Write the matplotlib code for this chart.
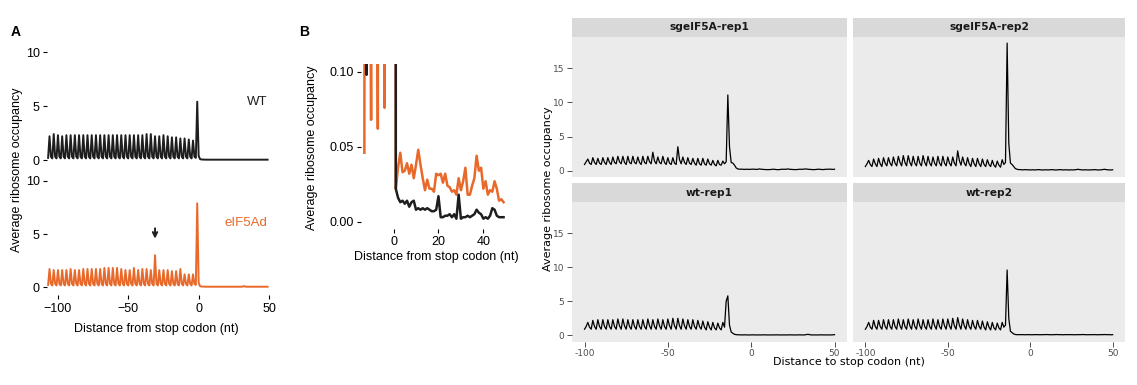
import numpy as np
import matplotlib
matplotlib.use("Agg")
import matplotlib.pyplot as plt

W, H = 1137, 385
ORANGE = "#E8692A"
DARK = "#1E1E1E"
SANS = ["Liberation Sans", "DejaVu Sans"]

# ---------------- panel A: one value per nt, -107 .. 49 ----------------
# head (-107), then codons (peak, low, low) from -106 to -2, then tail -1 .. 49
wt_head = [0.2]
wt_peak = [2.2, 2.4, 2.3, 2.2, 2.3, 2.3, 2.3, 2.3, 2.3, 2.3, 2.3, 2.3,
           2.3, 2.3, 2.3, 2.3, 2.3, 2.3, 2.3, 2.3, 2.3, 2.3, 2.3, 2.4,
           2.4, 2.2, 2.2, 2.3, 2.2, 2.1, 2.1, 2.0, 2.0, 1.9, 1.8]
wt_low1 = [0.3, 0.3, 0.3, 0.3, 0.3, 0.3, 0.3, 0.3, 0.3, 0.3, 0.3, 0.3,
           0.3, 0.3, 0.3, 0.3, 0.3, 0.3, 0.3, 0.3, 0.3, 0.3, 0.3, 0.3,
           0.3, 0.3, 0.3, 0.3, 0.3, 0.3, 0.3, 0.3, 0.3, 0.3, 0.3]
wt_low2 = [0.15, 0.15, 0.15, 0.15, 0.15, 0.15, 0.15, 0.15, 0.15, 0.15, 0.15, 0.15,
           0.15, 0.15, 0.15, 0.15, 0.15, 0.15, 0.15, 0.15, 0.15, 0.15, 0.15, 0.15,
           0.15, 0.15, 0.15, 0.15, 0.15, 0.15, 0.15, 0.15, 0.15, 0.15, 0.2]
wt_tail = [5.4, 0.4, 0.08, 0.05, 0.04, 0.03, 0.03, 0.03, 0.03, 0.03, 0.03,
           0.03, 0.03, 0.03, 0.03, 0.03, 0.03, 0.03, 0.03, 0.03, 0.03,
           0.03, 0.03, 0.03, 0.03, 0.03, 0.03, 0.03, 0.03, 0.03, 0.03,
           0.03, 0.03, 0.03, 0.03, 0.03, 0.03, 0.03, 0.03, 0.03, 0.03,
           0.03, 0.03, 0.03, 0.03, 0.03, 0.03, 0.03, 0.03, 0.03, 0.03]

ei_head = [0.2]
ei_peak = [1.7, 1.6, 1.6, 1.6, 1.6, 1.7, 1.6, 1.6, 1.7, 1.7, 1.7, 1.7,
           1.7, 1.8, 1.8, 1.8, 1.8, 1.7, 1.6, 1.6, 1.8, 1.6, 1.7, 1.7,
           1.6, 3.0, 1.6, 1.6, 1.6, 1.5, 1.5, 1.7, 1.2, 1.2, 1.2]
ei_low1 = [0.3, 0.3, 0.3, 0.3, 0.3, 0.3, 0.3, 0.3, 0.3, 0.3, 0.3, 0.3,
           0.3, 0.3, 0.3, 0.3, 0.3, 0.3, 0.3, 0.3, 0.3, 0.3, 0.3, 0.3,
           0.3, 0.3, 0.3, 0.3, 0.3, 0.3, 0.3, 0.3, 0.3, 0.3, 0.3]
ei_low2 = [0.15, 0.15, 0.15, 0.15, 0.15, 0.15, 0.15, 0.15, 0.15, 0.15, 0.15, 0.15,
           0.15, 0.15, 0.15, 0.15, 0.15, 0.15, 0.15, 0.15, 0.15, 0.15, 0.15, 0.15,
           0.15, 0.15, 0.15, 0.15, 0.15, 0.15, 0.15, 0.15, 0.15, 0.15, 0.2]
ei_tail = [7.9, 0.4, 0.08, 0.05, 0.04, 0.03, 0.03, 0.03, 0.03, 0.03, 0.03,
           0.03, 0.03, 0.03, 0.03, 0.03, 0.03, 0.03, 0.03, 0.03, 0.03,
           0.03, 0.03, 0.03, 0.03, 0.03, 0.03, 0.03, 0.03, 0.03, 0.03,
           0.03, 0.03, 0.08, 0.05, 0.03, 0.03, 0.03, 0.03, 0.03, 0.03,
           0.03, 0.03, 0.03, 0.03, 0.03, 0.03, 0.03, 0.03, 0.03, 0.03]

# ---------------- panel B: one value per nt, -13 .. 49 ----------------
b_orange = [0.046, 1.6, 0.5, 0.068, 1.6, 0.5, 0.062, 1.6, 0.5, 0.076, 1.2, 0.5, 0.4, 7.9,
            0.022, 0.036, 0.046, 0.033, 0.034, 0.039, 0.032, 0.038, 0.029, 0.038,
            0.048, 0.038, 0.029, 0.021, 0.028, 0.022, 0.022, 0.020, 0.032, 0.031,
            0.032, 0.026, 0.032, 0.024, 0.023, 0.020, 0.021, 0.018, 0.029, 0.021,
            0.027, 0.036, 0.018, 0.018, 0.024, 0.029, 0.044, 0.034, 0.036, 0.022,
            0.027, 0.018, 0.021, 0.020, 0.027, 0.022, 0.014, 0.015, 0.013]
b_black = [0.3, 0.098, 2.0, 0.3, 0.3, 2.2, 0.3, 0.3, 2.2, 0.3, 0.3, 2.0, 0.3, 5.4,
           0.022, 0.016, 0.013, 0.014, 0.012, 0.014, 0.010, 0.013, 0.014, 0.008,
           0.009, 0.008, 0.009, 0.008, 0.009, 0.008, 0.007, 0.007, 0.008, 0.017,
           0.003, 0.003, 0.004, 0.004, 0.005, 0.003, 0.005, 0.002, 0.018, 0.002,
           0.003, 0.003, 0.004, 0.003, 0.004, 0.005, 0.008, 0.006, 0.005, 0.002,
           0.003, 0.002, 0.004, 0.009, 0.008, 0.004, 0.003, 0.003, 0.003]

# ---------------- facets: one value per nt, -100 .. 50 ----------------
# head (-100, -99), codons (peak, low, low) -98 .. -15, tail -14 .. 50
facet_names = ["sgeIF5A-rep1", "sgeIF5A-rep2", "wt-rep1", "wt-rep2"]

rep1_head = [0.9, 1.3]
rep1_peak = [1.7, 1.9, 1.8, 1.9, 1.9, 2.0, 2.1, 2.1, 2.1, 2.1, 2.0, 2.1, 2.1, 2.7,
             2.0, 2.1, 1.9, 1.9, 3.5, 2.0, 1.9, 1.8, 1.8, 1.8, 1.7, 1.5, 1.5, 1.4]
rep1_low1 = [1.1, 1.2, 1.1, 1.2, 1.2, 1.2, 1.3, 1.2, 1.2, 1.2, 1.2, 1.2, 1.3, 1.4,
             1.2, 1.2, 1.1, 1.1, 1.6, 1.2, 1.1, 1.1, 1.0, 1.0, 1.0, 0.9, 0.9, 1.0]
rep1_low2 = [0.9, 0.9, 0.9, 0.9, 0.9, 1.0, 1.0, 0.9, 1.0, 1.0, 0.9, 1.0, 1.0, 1.0,
             1.0, 0.9, 0.9, 0.9, 1.0, 0.9, 0.9, 0.8, 0.8, 0.8, 0.8, 0.7, 0.8, 1.3]
rep1_tail = [11.1, 3.5, 1.2, 1.1, 0.8, 0.4, 0.25, 0.2, 0.22, 0.2, 0.18, 0.2, 0.2,
             0.18, 0.2, 0.22, 0.2, 0.18, 0.2, 0.25, 0.2, 0.18, 0.15, 0.15, 0.15, 0.15,
             0.18, 0.2, 0.2, 0.15, 0.15, 0.15, 0.2, 0.2, 0.2, 0.2, 0.25, 0.2, 0.18,
             0.15, 0.15, 0.15, 0.18, 0.2, 0.2, 0.2, 0.22, 0.25, 0.2, 0.18, 0.15, 0.15,
             0.15, 0.18, 0.2, 0.2, 0.18, 0.15, 0.18, 0.2, 0.2, 0.22, 0.2, 0.18, 0.2]

rep2_head = [0.6, 1.0]
rep2_peak = [1.5, 1.7, 1.8, 1.9, 1.9, 2.0, 2.1, 2.2, 2.2, 2.1, 2.1, 2.2, 2.1, 2.0,
             2.1, 2.1, 2.0, 2.0, 2.9, 2.0, 1.9, 1.8, 1.8, 1.7, 1.6, 1.5, 1.4, 1.6]
rep2_low1 = [0.9, 1.0, 1.0, 1.1, 1.1, 1.1, 1.2, 1.2, 1.2, 1.1, 1.1, 1.2, 1.1, 1.1,
             1.1, 1.1, 1.1, 1.1, 1.5, 1.1, 1.0, 1.0, 1.0, 0.9, 0.9, 0.8, 0.8, 0.9]
rep2_low2 = [0.6, 0.6, 0.6, 0.7, 0.7, 0.7, 0.7, 0.7, 0.7, 0.7, 0.7, 0.7, 0.7, 0.7,
             0.7, 0.7, 0.7, 0.7, 0.8, 0.7, 0.6, 0.6, 0.6, 0.6, 0.6, 0.5, 0.5, 1.2]
rep2_tail = [18.7, 4.0, 1.1, 0.9, 0.6, 0.3, 0.2, 0.15, 0.15, 0.12, 0.12, 0.15, 0.12,
             0.12, 0.1, 0.12, 0.12, 0.1, 0.12, 0.15, 0.12, 0.1, 0.1, 0.12, 0.12, 0.1,
             0.12, 0.15, 0.12, 0.1, 0.1, 0.12, 0.15, 0.12, 0.1, 0.12, 0.12, 0.1, 0.1,
             0.12, 0.1, 0.12, 0.15, 0.2, 0.15, 0.12, 0.1, 0.12, 0.12, 0.1, 0.1, 0.12,
             0.12, 0.15, 0.12, 0.1, 0.1, 0.12, 0.15, 0.2, 0.15, 0.12, 0.1, 0.1, 0.12]

wt1_head = [0.9, 1.3]
wt1_peak = [1.9, 2.2, 2.3, 2.3, 2.3, 2.3, 2.4, 2.4, 2.3, 2.3, 2.3, 2.3, 2.4, 2.3,
            2.4, 2.3, 2.4, 2.5, 2.5, 2.4, 2.3, 2.3, 2.2, 2.1, 2.0, 1.9, 1.8, 1.9]
wt1_low1 = [1.2, 1.3, 1.3, 1.3, 1.3, 1.3, 1.4, 1.4, 1.3, 1.3, 1.3, 1.3, 1.4, 1.3,
            1.4, 1.3, 1.4, 1.4, 1.4, 1.4, 1.3, 1.3, 1.3, 1.2, 1.2, 1.1, 1.1, 1.2]
wt1_low2 = [0.9, 0.9, 0.9, 0.9, 0.9, 0.9, 0.9, 0.9, 0.9, 0.9, 0.9, 0.9, 0.9, 0.9,
            0.9, 0.9, 0.9, 0.9, 0.9, 0.9, 0.9, 0.9, 0.9, 0.8, 0.8, 0.8, 0.8, 5.0]
wt1_tail = [5.8, 1.5, 0.5, 0.3, 0.15, 0.1, 0.08, 0.08, 0.06, 0.06, 0.08, 0.06, 0.06,
            0.06, 0.06, 0.08, 0.06, 0.06, 0.06, 0.05, 0.06, 0.06, 0.08, 0.06, 0.06, 0.06,
            0.05, 0.06, 0.06, 0.08, 0.06, 0.06, 0.06, 0.05, 0.06, 0.06, 0.06, 0.08, 0.06,
            0.06, 0.06, 0.05, 0.06, 0.08, 0.06, 0.06, 0.06, 0.1, 0.15, 0.1, 0.06, 0.06,
            0.06, 0.05, 0.06, 0.06, 0.08, 0.06, 0.06, 0.06, 0.05, 0.06, 0.06, 0.08, 0.1]

wt2_head = [0.9, 1.3]
wt2_peak = [1.9, 2.2, 2.2, 2.3, 2.3, 2.3, 2.4, 2.3, 2.4, 2.3, 2.4, 2.3, 2.3, 2.4,
            2.3, 2.4, 2.4, 2.5, 2.6, 2.4, 2.3, 2.2, 2.2, 2.1, 2.0, 1.9, 1.8, 1.9]
wt2_low1 = [1.2, 1.3, 1.3, 1.3, 1.3, 1.3, 1.4, 1.3, 1.4, 1.3, 1.4, 1.3, 1.3, 1.4,
            1.3, 1.4, 1.4, 1.4, 1.5, 1.4, 1.3, 1.3, 1.3, 1.2, 1.2, 1.1, 1.1, 1.2]
wt2_low2 = [0.9, 0.9, 0.9, 0.9, 0.9, 0.9, 0.9, 0.9, 0.9, 0.9, 0.9, 0.9, 0.9, 0.9,
            0.9, 0.9, 0.9, 0.9, 0.9, 0.9, 0.9, 0.9, 0.9, 0.8, 0.8, 0.8, 0.8, 1.5]
wt2_tail = [9.6, 2.5, 0.6, 0.4, 0.2, 0.12, 0.1, 0.1, 0.1, 0.1, 0.1, 0.08, 0.1,
            0.1, 0.1, 0.08, 0.1, 0.1, 0.1, 0.1, 0.08, 0.1, 0.1, 0.1, 0.12, 0.1,
            0.1, 0.08, 0.1, 0.1, 0.12, 0.1, 0.1, 0.1, 0.08, 0.1, 0.1, 0.1, 0.1,
            0.1, 0.1, 0.08, 0.1, 0.1, 0.1, 0.1, 0.12, 0.1, 0.1, 0.08, 0.1, 0.1,
            0.1, 0.1, 0.1, 0.08, 0.1, 0.1, 0.1, 0.12, 0.1, 0.1, 0.1, 0.08, 0.1]


def codons(head, peak, low1, low2, tail):
    vals = list(head)
    for p, a, b in zip(peak, low1, low2):
        vals += [p, a, b]
    return np.array(vals + list(tail))


def box(l, t, r, b):
    # pixel rectangle -> figure fraction
    return [l / W, 1 - b / H, (r - l) / W, (b - t) / H]


def clean(ax):
    for s in ax.spines.values():
        s.set_visible(False)


fig = plt.figure(figsize=(W / 100, H / 100), dpi=100)

# ---------------- panel A ----------------
a_x = np.arange(-107, 50)
wt_y = codons(wt_head, wt_peak, wt_low1, wt_low2, wt_tail)
ei_y = codons(ei_head, ei_peak, ei_low1, ei_low2, ei_tail)

axA1 = fig.add_axes(box(46.7, 48.8, 271.8, 168.1))
axA2 = fig.add_axes(box(46.7, 177.8, 271.8, 295))
for ax, y, c in [(axA1, wt_y, DARK), (axA2, ei_y, ORANGE)]:
    ax.plot(a_x, y, color=c, lw=1.4)
    ax.set_xlim(-108, 52)
    ax.set_ylim(-0.75, 10.3)
    ax.set_yticks([0, 5, 10])
    clean(ax)
    ax.tick_params(axis="both", length=3, width=0.8, pad=2, labelsize=9)
    for lab in ax.get_yticklabels():
        lab.set_family(SANS)
axA1.set_xticks([])
axA2.set_xticks([-100, -50, 0, 50])
axA2.set_xticklabels(["\u2212100", "\u221250", "0", "50"], family=SANS)
axA2.tick_params(axis="x", pad=3)
axA2.annotate("", xy=(-31, 4.3), xytext=(-31, 5.8),
              arrowprops=dict(arrowstyle="->", color=DARK, lw=1.4,
                              mutation_scale=8))

fig.text(267 / W, 1 - 102 / H, "WT", ha="right", va="center", fontsize=9.5,
         family=SANS, color=DARK)
fig.text(267 / W, 1 - 222.5 / H, "eIF5Ad", ha="right", va="center", fontsize=9.5,
         family=SANS, color=ORANGE)
fig.text(17 / W, 1 - 170 / H, "Average ribosome occupancy", rotation=90,
         ha="center", va="center", fontsize=9, family=SANS)
fig.text(156 / W, 1 - 329 / H, "Distance from stop codon (nt)", ha="center",
         va="center", fontsize=9, family=SANS)
fig.text(11 / W, 1 - 32 / H, "A", fontsize=10, fontweight="bold", family=SANS,
         va="center")

# ---------------- panel B ----------------
b_x = np.arange(-13, 50)
axB = fig.add_axes(box(361, 64.3, 505.8, 229.2))
axB.plot(b_x, b_orange, color=ORANGE, lw=1.8)
axB.plot(b_x, b_black, color=DARK, lw=1.8)
axB.set_xlim(-14.5, 50)
axB.set_ylim(-0.005, 0.105)
axB.set_yticks([0, 0.05, 0.10])
axB.set_yticklabels(["0.00", "0.05", "0.10"], family=SANS)
axB.set_xticks([0, 20, 40])
axB.set_xticklabels(["0", "20", "40"], family=SANS)
clean(axB)
axB.tick_params(axis="both", length=3, width=0.8, pad=2, labelsize=9)
fig.text(312 / W, 1 - 148 / H, "Average ribosome occupancy", rotation=90,
         ha="center", va="center", fontsize=9, family=SANS)
fig.text(436 / W, 1 - 257 / H, "Distance from stop codon (nt)", ha="center",
         va="center", fontsize=9, family=SANS)
fig.text(299 / W, 1 - 32 / H, "B", fontsize=10, fontweight="bold", family=SANS,
         va="center")

# ---------------- facets ----------------
c_x = np.arange(-100, 51)
facet_y = [
    codons(rep1_head, rep1_peak, rep1_low1, rep1_low2, rep1_tail),
    codons(rep2_head, rep2_peak, rep2_low1, rep2_low2, rep2_tail),
    codons(wt1_head, wt1_peak, wt1_low1, wt1_low2, wt1_tail),
    codons(wt2_head, wt2_peak, wt2_low1, wt2_low2, wt2_tail),
]
cols = [(572, 847), (853, 1125)]
rows = [(18.3, 36.7, 177), (183.3, 201.7, 341.7)]
for i, (name, y) in enumerate(zip(facet_names, facet_y)):
    l, r = cols[i % 2]
    st, pt, pb = rows[i // 2]
    ax = fig.add_axes(box(l, pt, r, pb))
    ax.set_facecolor("#EBEBEB")
    ax.plot(c_x, y, color="black", lw=0.9)
    ax.set_xlim(-107.5, 57.5)
    ax.set_ylim(-0.935, 19.64)
    clean(ax)
    ax.set_yticks([0, 5, 10, 15])
    ax.set_xticks([-100, -50, 0, 50])
    ax.tick_params(axis="both", length=3.5, width=0.6, color="#333333",
                   labelcolor="#4D4D4D", labelsize=6.5, pad=2)
    if i % 2 == 1:
        ax.set_yticklabels([])
        ax.tick_params(axis="y", length=0)
    else:
        ax.set_yticklabels(["0", "5", "10", "15"])
    if i < 2:
        ax.set_xticklabels([])
        ax.tick_params(axis="x", length=0)
    else:
        ax.set_xticklabels(["-100", "-50", "0", "50"])
    sax = fig.add_axes(box(l, st, r, pt))
    sax.set_facecolor("#D9D9D9")
    clean(sax)
    sax.set_xticks([])
    sax.set_yticks([])
    sax.text(0.5, 0.5, name, ha="center", va="center", fontsize=7.7,
             fontweight="bold", color="#1A1A1A", transform=sax.transAxes)

fig.text(548 / W, 1 - 189 / H, "Average ribosome occupancy", rotation=90,
         ha="center", va="center", fontsize=8)
fig.text(848.5 / W, 1 - 362 / H, "Distance to stop codon (nt)", ha="center",
         va="center", fontsize=8)

fig.savefig("out.png", dpi=100)
